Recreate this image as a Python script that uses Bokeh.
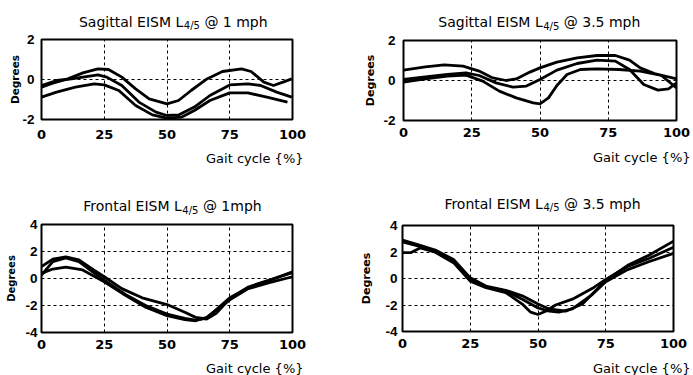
from bokeh.plotting import figure
from bokeh.models import Range1d, FixedTicker
from bokeh.core.properties import value
from bokeh.layouts import row, column
from bokeh.embed import file_html
from bokeh.resources import INLINE

# ---------------- data ----------------
x_ticks = [0, 25, 50, 75, 100]
x_grid = [25, 50, 75]

# Sagittal @ 1 mph
sag1_xa = [0, 4.5, 10.5, 16.5, 22.5, 26.7, 32, 37.5, 42.9, 50, 54.6, 59.6, 65.9, 72.1, 79.7, 83.5, 88.6, 92.4, 96.2, 99.7]
sag1_ya = [-0.38, -0.18, 0.03, 0.33, 0.53, 0.5, 0.12, -0.47, -0.97, -1.22, -1.05, -0.55, 0.03, 0.4, 0.53, 0.4, -0.13, -0.3, -0.13, 0.03]
sag1_xb = [0, 6, 12, 16.5, 22.5, 26, 32, 38.8, 45.6, 50, 54.6, 60.9, 67.1, 75, 82.2, 87.3, 93.7, 99.7]
sag1_yb = [-0.3, -0.05, 0.03, 0.12, 0.23, 0.12, -0.3, -1.13, -1.63, -1.8, -1.77, -1.38, -0.8, -0.27, -0.22, -0.3, -0.63, -0.88]
sag1_xc = [0, 6, 13.5, 21, 25, 30.8, 37.5, 44.2, 50, 55.9, 60.9, 67.1, 75, 82.2, 89.8, 98]
sag1_yc = [-0.88, -0.63, -0.38, -0.22, -0.27, -0.55, -1.3, -1.77, -1.93, -1.88, -1.55, -1.05, -0.67, -0.67, -0.88, -1.13]

# Sagittal @ 3.5 mph
sag35_xa = [0, 8, 14.9, 21.8, 27.7, 32.7, 37.6, 41.3, 46.3, 50, 56.2, 63.6, 70.9, 77.6, 82.8, 86.7, 91.9, 100]
sag35_ya = [0.52, 0.68, 0.78, 0.72, 0.47, 0.13, 0.0, 0.08, 0.42, 0.63, 0.92, 1.13, 1.25, 1.25, 1.02, 0.63, 0.35, 0.08]
sag35_xb = [0, 8, 16.1, 22.9, 27.7, 33.9, 40.1, 45, 50, 56.2, 63.6, 70.9, 77.6, 82.8, 88, 93.2, 97.1, 100]
sag35_yb = [0.05, 0.18, 0.3, 0.38, 0.25, -0.12, -0.33, -0.28, 0.05, 0.52, 0.85, 1.02, 0.97, 0.55, -0.2, -0.48, -0.42, -0.12]
sag35_xc = [0, 8, 16.1, 22.9, 29, 35.1, 41.3, 47.5, 50, 53.1, 56.2, 59.9, 64.8, 70.9, 78.9, 86.7, 94.5, 100]
sag35_yc = [-0.08, 0.08, 0.22, 0.27, -0.03, -0.53, -0.87, -1.12, -1.17, -0.87, -0.25, 0.3, 0.55, 0.58, 0.55, 0.47, 0.25, -0.37]

# Frontal @ 1 mph
fro1_xa = [0, 4.5, 9.7, 14.9, 20.8, 25, 32, 40.1, 50, 57.1, 61.4, 65.8, 69.6, 75, 82.4, 90.4, 100]
fro1_ya = [0.88, 1.43, 1.6, 1.38, 0.63, 0.13, -0.75, -1.43, -1.93, -2.5, -2.88, -3.0, -2.58, -1.5, -0.63, -0.13, 0.43]
fro1_xb = [0, 4.5, 9.7, 16.4, 25, 33.4, 41.5, 50, 57.1, 61.4, 65.8, 75, 82.4, 90.4, 100]
fro1_yb = [0.38, 0.7, 0.85, 0.63, -0.25, -1.25, -2.13, -2.75, -3.05, -3.13, -2.88, -1.58, -0.75, -0.33, 0.13]
fro1_xc = [0, 4.5, 9.7, 14.9, 20.8, 25, 33.4, 41.5, 50, 57.1, 61.4, 65.8, 75, 82.4, 90.4, 100]
fro1_yc = [0.25, 1.25, 1.53, 1.25, 0.43, -0.13, -1.18, -2.0, -2.63, -2.95, -3.08, -2.93, -1.43, -0.68, -0.18, 0.5]

# Frontal @ 3.5 mph
fro35_xa = [0, 5.3, 12.1, 19, 25, 30.8, 38.1, 44.2, 50, 54.1, 60.2, 66.4, 75, 83.1, 91.1, 100]
fro35_ya = [2.89, 2.57, 2.15, 1.41, 0.05, -0.57, -0.89, -1.31, -1.93, -2.3, -2.47, -1.93, -0.15, 0.99, 1.78, 2.81]
fro35_xb = [0, 3, 6.5, 12.1, 19, 25, 30.8, 38.1, 44.2, 47.3, 50, 52.8, 56.5, 62.7, 70.1, 75, 83.1, 91.1, 100]
fro35_yb = [1.95, 1.95, 2.3, 1.98, 1.16, -0.2, -0.69, -1.06, -1.93, -2.54, -2.72, -2.47, -2.0, -1.56, -0.74, -0.07, 0.91, 1.53, 2.36]
fro35_xc = [0, 5.3, 12.1, 19, 25, 30.8, 38.1, 44.2, 50, 54.1, 57.7, 62.7, 70.1, 75, 83.1, 91.1, 100]
fro35_yc = [2.77, 2.47, 2.02, 1.23, -0.15, -0.64, -0.94, -1.56, -2.22, -2.47, -2.54, -2.3, -1.19, -0.25, 0.67, 1.28, 1.9]

sag_yticks = [-2, 0, 2]
sag_ygrid = [0]
fro_yticks = [-4, -2, 0, 2, 4]
fro_ygrid = [-2, 0, 2]

titles = [
    ("Sagittal EISM L", "4/5", "@ 1 mph"),
    ("Sagittal EISM L", "4/5", "@ 3.5 mph"),
    ("Frontal EISM L", "4/5", "@ 1mph"),
    ("Frontal EISM L", "4/5", "@ 3.5 mph"),
]
xlabel = "Gait cycle {%}"
ylabel = "Degrees"

FONT = "DejaVu Sans"
LW, RW = 340, 353


def no_align(fig):
    if "frame_align" in fig.properties():
        fig.frame_align = False


def make_panel(curves, ylim, yticks, ygrid, w, h, bl, br, bt, bb,
               xstand, ystand, ylstand, ylsize):
    p = figure(width=w, height=h, x_range=Range1d(0, 100), y_range=Range1d(*ylim),
               output_backend="svg", toolbar_location=None, tools="", title=None,
               min_border_left=bl, min_border_right=br, min_border_top=bt, min_border_bottom=bb)
    no_align(p)
    p.background_fill_color = "white"
    p.border_fill_color = "white"
    p.outline_line_color = "black"
    p.outline_line_width = 2

    p.xaxis.ticker = FixedTicker(ticks=x_ticks)
    p.yaxis.ticker = FixedTicker(ticks=yticks)
    p.yaxis.major_label_overrides = {t: str(t) for t in yticks}
    for ax in (p.xaxis, p.yaxis):
        ax.axis_line_color = None
        ax.major_tick_line_color = None
        ax.minor_tick_line_color = None
        ax.major_tick_out = 0
        ax.major_tick_in = 0
        ax.major_label_text_font_style = "bold"
        ax.major_label_text_color = "black"
    p.xaxis.major_label_text_font = FONT
    p.xaxis.major_label_text_font_size = "13px"
    p.xaxis.major_label_standoff = xstand
    p.yaxis.major_label_text_font = "Liberation Sans"
    p.yaxis.major_label_text_font_size = "13.5px"
    p.yaxis.major_label_standoff = ystand
    p.yaxis.axis_label = ylabel
    p.yaxis.axis_label_text_font = FONT
    p.yaxis.axis_label_text_font_style = "bold"
    p.yaxis.axis_label_text_font_size = ylsize
    p.yaxis.axis_label_text_color = "black"
    p.yaxis.axis_label_standoff = ylstand

    p.xgrid.ticker = FixedTicker(ticks=x_grid)
    p.ygrid.ticker = FixedTicker(ticks=ygrid)
    for g in (p.xgrid, p.ygrid):
        g.grid_line_color = "black"
        g.grid_line_width = 1
        g.grid_line_dash = "3 3"

    for xs, ys in curves:
        p.line(xs, ys, line_color="black", line_width=2.8)
    return p


def make_strip(w, h):
    s = figure(width=w, height=h, x_range=Range1d(0, w), y_range=Range1d(0, h),
               output_backend="svg", toolbar_location=None, tools="", title=None,
               x_axis_location=None, y_axis_location=None, min_border=0)
    no_align(s)
    s.outline_line_color = None
    s.background_fill_color = "white"
    s.border_fill_color = "white"
    s.grid.visible = False
    return s


def add_title(s, title, x, y):
    main, sub, rest = title
    s.text(x=[x], y=[y], text=[main], text_align="right", text_baseline="alphabetic",
           text_font=value(FONT), text_font_size="14px", text_color="black")
    s.text(x=[x + 0.5], y=[y - 4], text=[sub], text_align="left", text_baseline="alphabetic",
           text_font=value(FONT), text_font_size="10px", text_color="black")
    s.text(x=[x + 21.1], y=[y], text=[rest], text_align="left", text_baseline="alphabetic",
           text_font=value(FONT), text_font_size="14px", text_color="black")


def add_xlabel(s, x, y):
    s.text(x=[x], y=[y], text=[xlabel], text_align="right", text_baseline="alphabetic",
           text_font=value(FONT), text_font_size="13px", text_color="black")


# left column
h1 = make_strip(LW, 30)
add_title(h1, titles[0], 182.8, 9)
p1 = make_panel([(sag1_xa, sag1_ya), (sag1_xb, sag1_yb), (sag1_xc, sag1_yc)],
                (-2, 2), sag_yticks, sag_ygrid, LW, 115, 41, 48, 9, 26, 10, 7, -2, "10.5px")
m1 = make_strip(LW, 70)
add_xlabel(m1, 303, 57)
add_title(m1, titles[2], 181.3, 9.3)
p3 = make_panel([(fro1_xa, fro1_ya), (fro1_xb, fro1_yb), (fro1_xc, fro1_yc)],
                (-4, 4), fro_yticks, fro_ygrid, LW, 140, 41, 48, 9, 23, 7, 4, 5, "10px")
f3 = make_strip(LW, 20)
add_xlabel(f3, 303, 7.5)

# right column
h2 = make_strip(RW, 31)
add_title(h2, titles[1], 202.2, 9.3)
p2 = make_panel([(sag35_xa, sag35_ya), (sag35_xb, sag35_yb), (sag35_xc, sag35_yc)],
                (-2, 2), sag_yticks, sag_ygrid, RW, 112, 63, 17, 9, 23, 7, 8, 3, "11px")
m2 = make_strip(RW, 73)
add_xlabel(m2, 350, 59)
add_title(m2, titles[3], 202.4, 12.7)
p4 = make_panel([(fro35_xa, fro35_ya), (fro35_xb, fro35_yb), (fro35_xc, fro35_yc)],
                (-4, 4), fro_yticks, fro_ygrid, RW, 138, 62, 20, 9, 23, 7, 5, 9, "11px")
f4 = make_strip(RW, 21)
add_xlabel(f4, 350, 7.5)

layout = row(column(h1, p1, m1, p3, f3, spacing=0),
             column(h2, p2, m2, p4, f4, spacing=0), spacing=0)

open("out.html", "w").write(file_html(layout, INLINE))
